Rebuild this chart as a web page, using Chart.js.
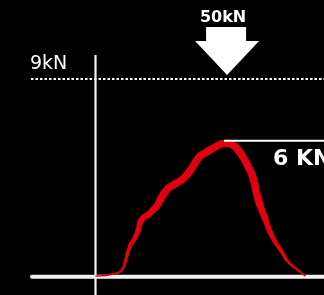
<!DOCTYPE html>
<html>
<head>
<meta charset="utf-8">
<script src="https://cdn.jsdelivr.net/npm/chart.js@4/dist/chart.umd.min.js"></script>
<style>
  html, body { margin: 0; padding: 0; background: #000; }
  #wrap { width: 324px; height: 295px; }
</style>
</head>
<body>
<div id="wrap"><canvas id="c" width="324" height="295"></canvas></div>
<script>
// time (ms) and force (kN) of the impact curve
const timeMs = [0, 7.8, 12.2, 18.3, 22.6, 25.2, 27.0, 29.6, 33.9, 36.5, 38.3, 40.9, 45.2, 49.6, 53.0, 55.7, 60.0, 64.3, 68.7, 73.0, 76.5, 81.7, 86.1, 90.4, 94.8, 99.1, 105.2, 109.6, 114.8, 120.9, 126.7, 132.4, 136.8, 139.7, 142.6, 147.0, 151.3, 155.7, 161.5, 165.8, 171.6, 177.4, 181.7];
const forceKN = [0, 0.02, 0.07, 0.14, 0.27, 0.59, 0.96, 1.37, 1.74, 2.06, 2.42, 2.65, 2.79, 3.02, 3.20, 3.47, 3.84, 4.07, 4.20, 4.34, 4.48, 4.80, 5.16, 5.48, 5.62, 5.76, 5.94, 6.05, 6.07, 5.91, 5.53, 4.99, 4.46, 3.78, 3.24, 2.64, 2.02, 1.57, 1.11, 0.73, 0.42, 0.20, 0.02];
// reference lines and labels
const limitKN = 9;
const limitLabel = '9kN';
const peakKN = 6.18;
const peakTimeMs = 114;
const peakLabel = '6 KN';
const impactLabel = '50kN';

const points = timeMs.map((t, i) => ({ x: t, y: forceKN[i] }));

const overlay = {
  id: 'overlay',
  beforeDatasetsDraw(chart) {
    const { ctx, scales: { x, y }, chartArea } = chart;
    ctx.save();
    // dotted 9kN limit
    const yl = y.getPixelForValue(limitKN);
    ctx.strokeStyle = '#ffffff';
    ctx.lineWidth = 2;
    ctx.setLineDash([2.5, 2]);
    ctx.beginPath();
    ctx.moveTo(31, yl);
    ctx.lineTo(chartArea.right, yl);
    ctx.stroke();
    ctx.setLineDash([]);
    // vertical axis
    const x0 = x.getPixelForValue(0);
    ctx.strokeStyle = '#f2f2f2';
    ctx.lineWidth = 2.2;
    ctx.beginPath();
    ctx.moveTo(x0 - 0.5, y.getPixelForValue(10.1));
    ctx.lineTo(x0 - 0.5, chartArea.bottom);
    ctx.stroke();
    // horizontal axis
    const y0 = y.getPixelForValue(0);
    ctx.lineWidth = 4;
    ctx.lineCap = 'round';
    ctx.beginPath();
    ctx.moveTo(32, y0 + 0.7);
    ctx.lineTo(chartArea.right + 4, y0 + 0.7);
    ctx.stroke();
    // 9kN label
    ctx.fillStyle = '#ffffff';
    ctx.font = '500 19px "DejaVu Sans"';
    ctx.textBaseline = 'alphabetic';
    ctx.textAlign = 'left';
    ctx.fillText(limitLabel, 30, yl - 10);
    ctx.restore();
  },
  afterDatasetsDraw(chart) {
    const { ctx, scales: { x, y }, chartArea } = chart;
    ctx.save();
    const xp = x.getPixelForValue(peakTimeMs);
    // peak line
    const yp = y.getPixelForValue(peakKN);
    ctx.strokeStyle = '#ffffff';
    ctx.lineWidth = 2;
    ctx.beginPath();
    ctx.moveTo(xp - 3, yp);
    ctx.lineTo(chartArea.right, yp);
    ctx.stroke();
    ctx.fillStyle = '#ffffff';
    ctx.font = 'bold 22px "DejaVu Sans"';
    ctx.textAlign = 'left';
    ctx.fillText(peakLabel, 273, yp + 24.5);
    // arrow
    const tip = y.getPixelForValue(limitKN) - 4;
    const cx = xp;
    ctx.beginPath();
    ctx.moveTo(cx - 21, tip - 48);
    ctx.lineTo(cx + 19, tip - 48);
    ctx.lineTo(cx + 19, tip - 34);
    ctx.lineTo(cx + 32, tip - 34);
    ctx.lineTo(cx, tip);
    ctx.lineTo(cx - 32, tip - 34);
    ctx.lineTo(cx - 21, tip - 34);
    ctx.closePath();
    ctx.fill();
    ctx.font = 'bold 16px "DejaVu Sans"';
    ctx.textAlign = 'center';
    ctx.fillText(impactLabel, cx - 4, tip - 53);
    ctx.restore();
  }
};

new Chart(document.getElementById('c'), {
  type: 'line',
  data: {
    datasets: [{
      data: points,
      borderColor: '#e3000f',
      borderWidth: 5,
      cubicInterpolationMode: 'monotone',
      pointRadius: 0,
      fill: false,
      borderCapStyle: 'round',
      borderJoinStyle: 'round',
      segment: {
        borderWidth: ctx => {
          const f = Math.max(ctx.p0.parsed.y, ctx.p1.parsed.y);
          return Math.min(7.5, 1.5 + f * 1.6);
        }
      }
    }]
  },
  options: {
    responsive: false,
    animation: false,
    layout: { padding: 0 },
    plugins: { legend: { display: false }, tooltip: { enabled: false } },
    scales: {
      x: { type: 'linear', display: false, min: -83.5, max: 198.3 },
      y: { type: 'linear', display: false, min: -0.868, max: 12.609 }
    }
  },
  plugins: [overlay]
});
</script>
</body>
</html>
